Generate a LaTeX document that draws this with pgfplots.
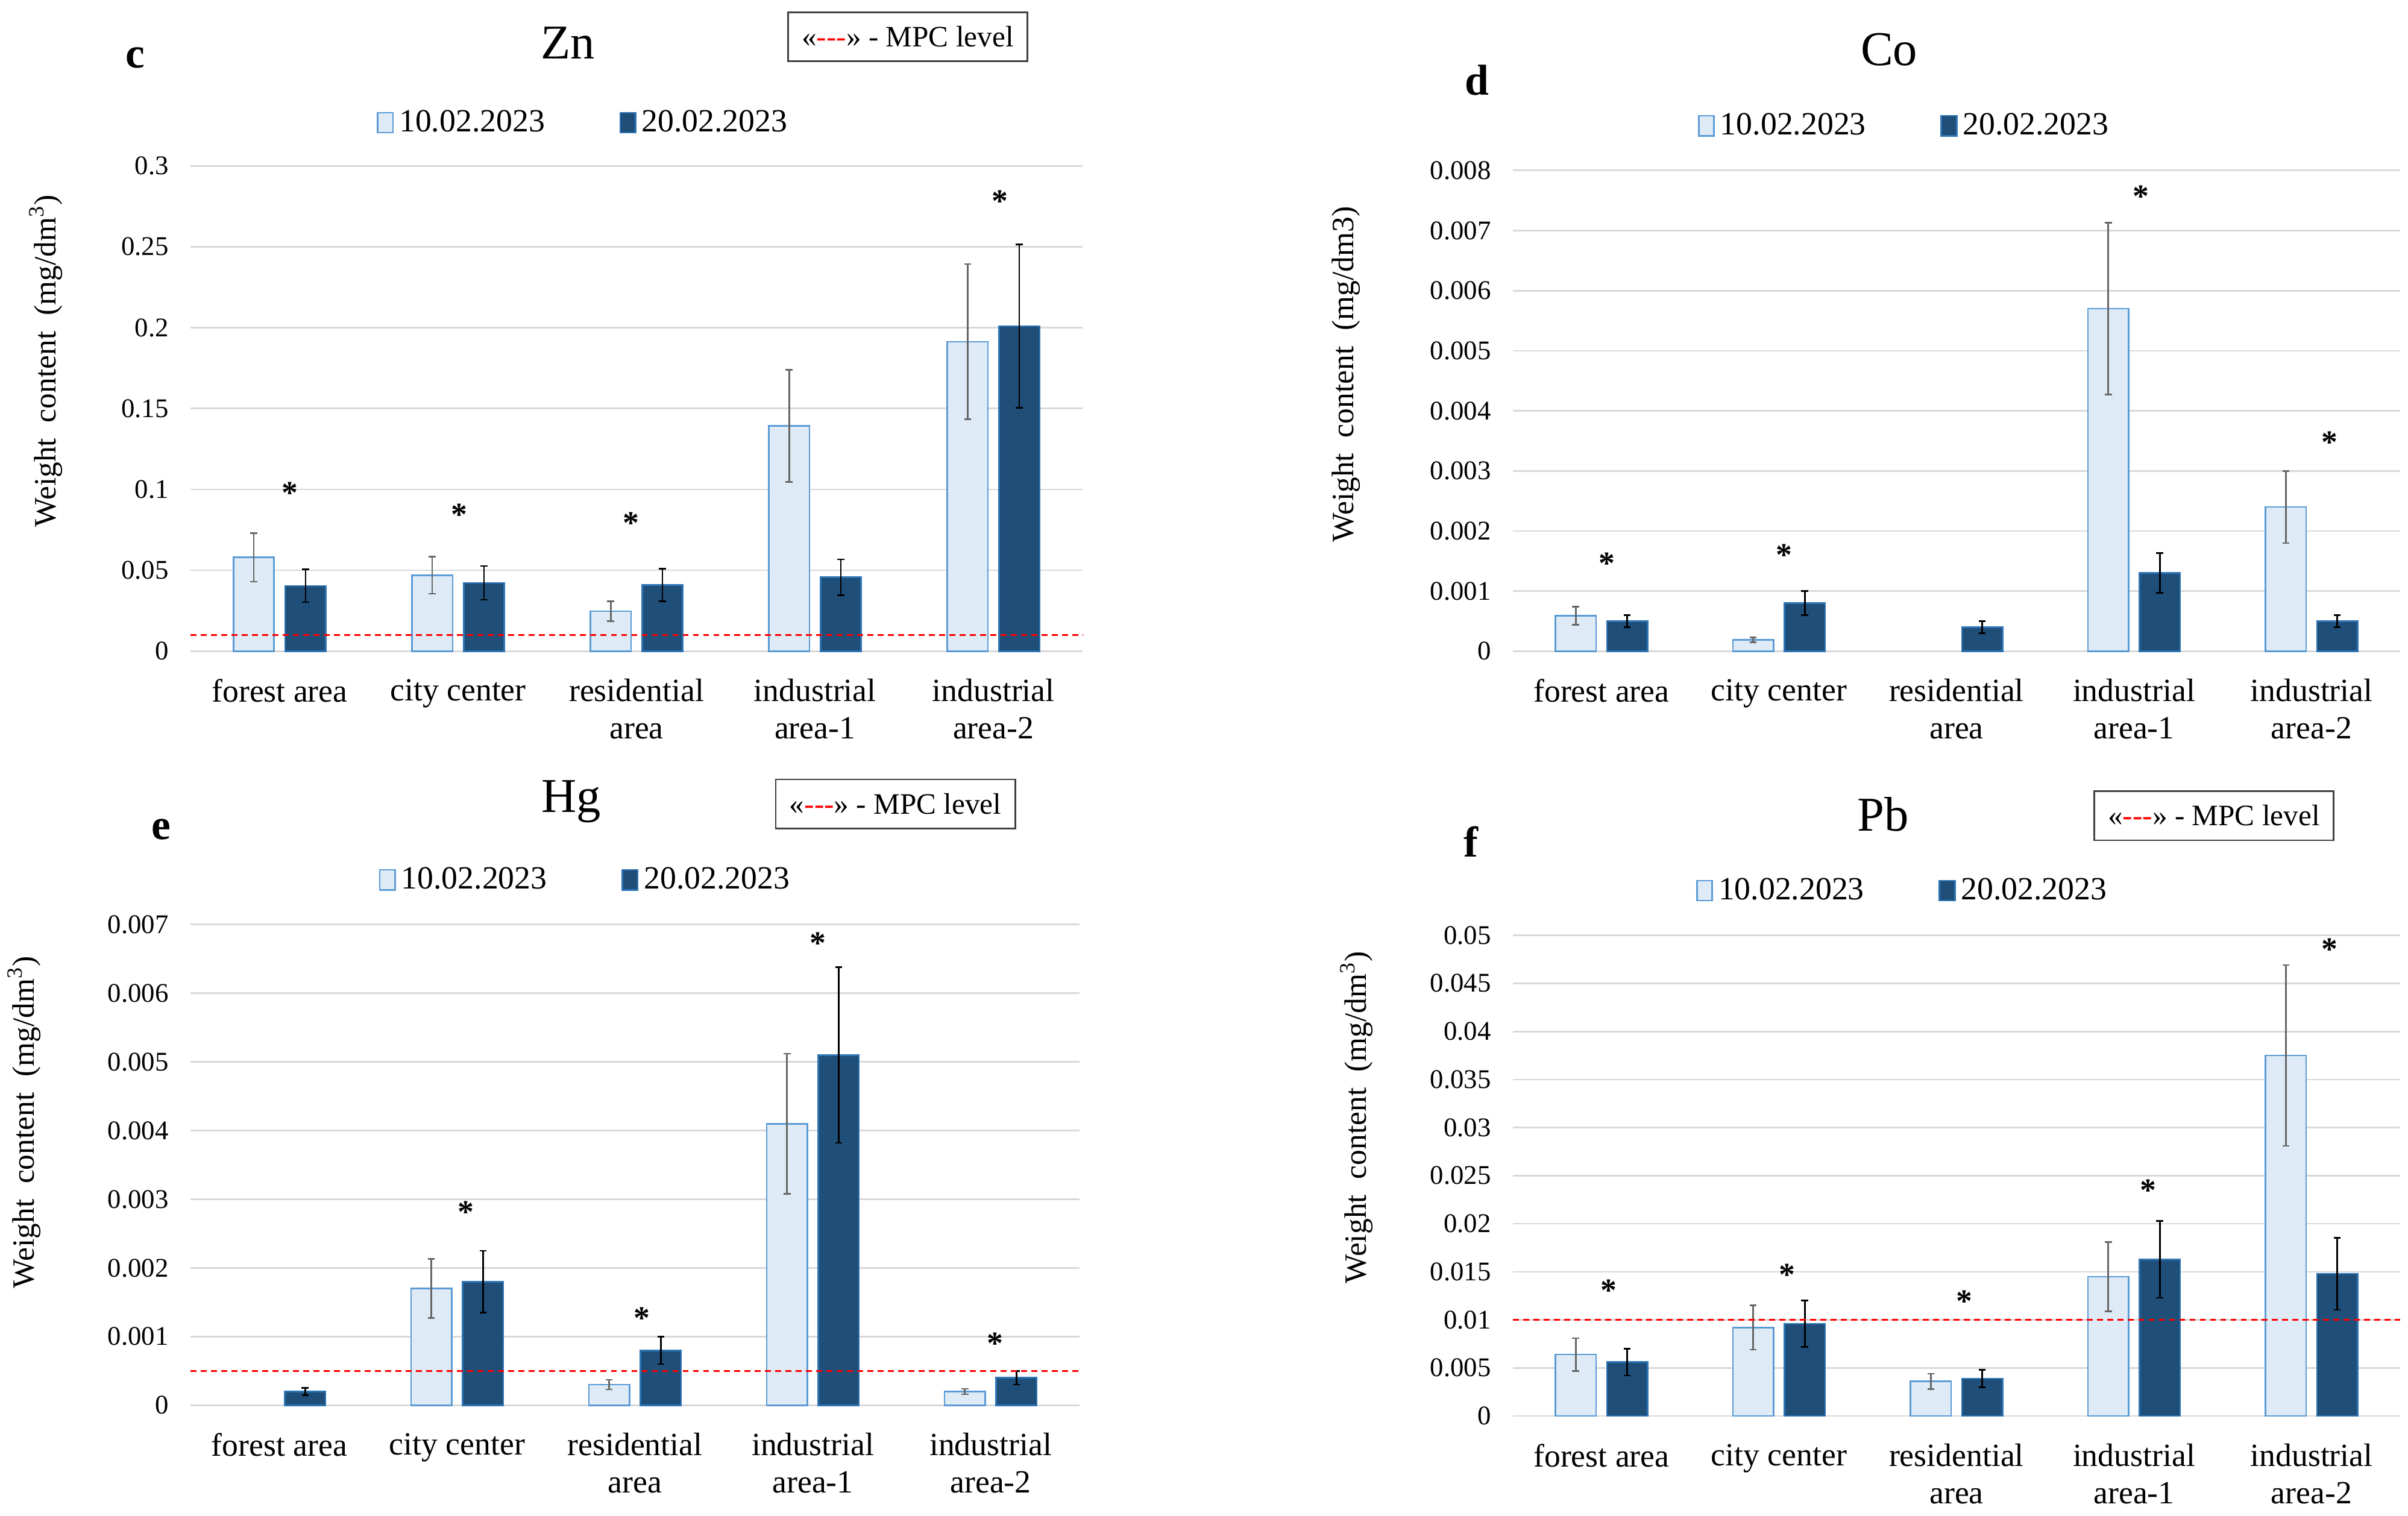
\documentclass[border=0pt]{standalone}
\usepackage{fontspec}
\setmainfont{Liberation Serif}
\usepackage{pgfplots}
\pgfplotsset{compat=1.18}

\definecolor{lightbar}{HTML}{DEEBF7}
\definecolor{lightedge}{HTML}{5B9BD5}
\definecolor{darkbar}{HTML}{1F4E79}
\definecolor{darkedge}{HTML}{2E75B6}
\definecolor{gridgray}{HTML}{D9D9D9}

% bars sit at category -0.145 (first date) and +0.145 (second date)
\pgfplotsset{
  panel/.style={
    scale only axis, anchor=north west, clip=false,
    xmin=-0.5, xmax=4.5, ymin=0,
    xtick={0,1,2,3,4},
    xticklabels={forest area, city center, {residential\\area}, {industrial\\area-1}, {industrial\\area-2}},
    xticklabel style={align=center, font=\fontsize{12}{13.7}\selectfont, yshift=-2.4mm},
    axis line style={draw=none}, major tick length=0pt,
    ymajorgrids, grid style={gridgray, line width=0.6pt},
    scaled y ticks=false,
    yticklabel style={/pgf/number format/fixed, /pgf/number format/precision=3,
      /pgf/number format/assume math mode=true,
      font=\fontsize{10}{12}\selectfont, xshift=-1.6mm},
    legend style={draw=none, fill=none, anchor=center, legend columns=2,
      font=\fontsize{12}{14}\selectfont,
      /tikz/every even column/.append style={column sep=9mm}},
  },
  light/.style={ybar, bar width=5.3mm, bar shift=0pt,
    fill=lightbar, draw=lightedge, line width=0.6pt,
    legend image code/.code={\draw[fill=lightbar, draw=lightedge, line width=0.6pt] (0mm,-1.3mm) rectangle (2mm,1.3mm);},
    error bars/.cd, y dir=both, y explicit,
    error bar style={black!60, line width=0.6pt},
    error mark options={rotate=90, black!60, mark size=0.45mm, line width=0.6pt}},
  dark/.style={ybar, bar width=5.3mm, bar shift=0pt,
    fill=darkbar, draw=darkedge, line width=0.6pt,
    legend image code/.code={\draw[fill=darkbar, draw=darkedge, line width=0.6pt] (0mm,-1.3mm) rectangle (2mm,1.3mm);},
    error bars/.cd, y dir=both, y explicit,
    error bar style={black, line width=0.6pt},
    error mark options={rotate=90, black, mark size=0.45mm, line width=0.6pt}},
  stars/.style={draw=none, mark=none, forget plot,
    nodes near coords={*},
    every node near coord/.append style={anchor=center, yshift=-0.8mm,
      font=\bfseries\fontsize{12}{12}\selectfont}},
  mpc/.style={red, line width=0.8pt, dash pattern=on 2.2pt off 1.6pt, forget plot},
}

\newcommand{\mpcbox}[2]{\node[draw=black!75, line width=0.6pt, minimum width=31.2mm, minimum height=6.4mm,
  font=\fontsize{11}{12}\selectfont] at (axis description cs:#1,#2) {«\textcolor{red}{-{}-{}-}» - MPC level};}
\newcommand{\ylab}{Weight\ \ content\ \ (mg/dm\textsuperscript{3})}

\begin{document}
\begin{tikzpicture}
\path[use as bounding box] (0,0) rectangle (313.6mm,-197.35mm);

% c: Zn
\begin{axis}[panel, at={(24.8mm,-21.6mm)}, width=116.2mm, height=63.2mm,
  ymax=0.3, ytick={0,0.05,...,0.3},
  legend style={at={(axis description cs:0.442,1.089)}},
  ylabel={\ylab}, ylabel style={at={(axis description cs:-0.162,0.598)}, anchor=center, font=\fontsize{11.5}{12}\selectfont}]
\addplot[light] coordinates {(-0.145,0.058) +- (0,0.015) (0.855,0.047) +- (0,0.0115) (1.855,0.0247) +- (0,0.0062) (2.855,0.1393) +- (0,0.0346) (3.855,0.1913) +- (0,0.048)};
\addlegendentry{10.02.2023}
\addplot[dark] coordinates {(0.145,0.0404) +- (0,0.0101) (1.145,0.0422) +- (0,0.0104) (2.145,0.041) +- (0,0.0101) (3.145,0.0457) +- (0,0.011) (4.145,0.201) +- (0,0.0505)};
\addlegendentry{20.02.2023}
\addplot[mpc] coordinates {(-0.5,0.01) (4.5,0.01)};
\addplot[stars] coordinates {(0.057,0.1016) (1.006,0.0882) (1.97,0.0829) (4.035,0.282)};
\node[font=\fontsize{18}{20}\selectfont] at (axis description cs:0.423,1.253) {Zn};
\node[font=\bfseries\fontsize{16}{18}\selectfont] at (axis description cs:-0.062,1.222) {c};
\mpcbox{0.804}{1.266}
\end{axis}

% d: Co
\begin{axis}[panel, at={(197.0mm,-22.2mm)}, width=115.6mm, height=62.6mm,
  ymax=0.008, ytick={0,0.001,...,0.008},
  legend style={at={(axis description cs:0.443,1.093)}},
  ylabel={Weight\ \ content\ \ (mg/dm3)}, ylabel style={at={(axis description cs:-0.188,0.576)}, anchor=center, font=\fontsize{11.5}{12}\selectfont}]
\addplot[light] coordinates {(-0.145,0.00059) +- (0,0.00015) (0.855,0.00019) +- (0,0.00004) (2.855,0.0057) +- (0,0.00143) (3.855,0.0024) +- (0,0.0006)};
\addlegendentry{10.02.2023}
\addplot[dark] coordinates {(0.145,0.0005) +- (0,0.0001) (1.145,0.0008) +- (0,0.0002) (2.145,0.0004) +- (0,0.0001) (3.145,0.0013) +- (0,0.00033) (4.145,0.0005) +- (0,0.0001)};
\addlegendentry{20.02.2023}
\addplot[stars] coordinates {(0.03,0.00156) (1.03,0.0017) (3.04,0.00767) (4.1,0.00358)};
\node[font=\fontsize{18}{20}\selectfont] at (axis description cs:0.424,1.252) {Co};
\node[font=\bfseries\fontsize{16}{18}\selectfont] at (axis description cs:-0.04,1.188) {d};
\end{axis}

% e: Hg
\begin{axis}[panel, at={(24.8mm,-120.4mm)}, width=115.8mm, height=62.6mm,
  ymax=0.007, ytick={0,0.001,...,0.007},
  legend style={at={(axis description cs:0.446,1.093)}},
  ylabel={\ylab}, ylabel style={at={(axis description cs:-0.187,0.589)}, anchor=center, font=\fontsize{11.5}{12}\selectfont}]
\addplot[light] coordinates {(0.855,0.0017) +- (0,0.00043) (1.855,0.0003) +- (0,0.00007) (2.855,0.0041) +- (0,0.00102) (3.855,0.0002) +- (0,0.00004)};
\addlegendentry{10.02.2023}
\addplot[dark] coordinates {(0.145,0.0002) +- (0,0.00005) (1.145,0.0018) +- (0,0.00045) (2.145,0.0008) +- (0,0.0002) (3.145,0.0051) +- (0,0.00128) (4.145,0.0004) +- (0,0.0001)};
\addlegendentry{20.02.2023}
\addplot[mpc] coordinates {(-0.5,0.0005) (4.5,0.0005)};
\addplot[stars] coordinates {(1.05,0.0029) (2.04,0.00136) (3.03,0.00682) (4.025,0.00099)};
\node[font=\fontsize{18}{20}\selectfont] at (axis description cs:0.428,1.256) {Hg};
\node[font=\bfseries\fontsize{16}{18}\selectfont] at (axis description cs:-0.033,1.198) {e};
\mpcbox{0.793}{1.251}
\end{axis}

% f: Pb
\begin{axis}[panel, at={(197.0mm,-121.8mm)}, width=115.6mm, height=62.6mm,
  ymax=0.05, ytick={0,0.005,...,0.05},
  legend style={at={(axis description cs:0.441,1.093)}},
  ylabel={\ylab}, ylabel style={at={(axis description cs:-0.176,0.621)}, anchor=center, font=\fontsize{11.5}{12}\selectfont}]
\addplot[light] coordinates {(-0.145,0.0064) +- (0,0.0017) (0.855,0.0092) +- (0,0.0023) (1.855,0.0036) +- (0,0.0008) (2.855,0.0145) +- (0,0.0036) (3.855,0.0375) +- (0,0.0094)};
\addlegendentry{10.02.2023}
\addplot[dark] coordinates {(0.145,0.0056) +- (0,0.0014) (1.145,0.0096) +- (0,0.0024) (2.145,0.0039) +- (0,0.0009) (3.145,0.0163) +- (0,0.004) (4.145,0.0148) +- (0,0.00375)};
\addlegendentry{20.02.2023}
\addplot[mpc] coordinates {(-0.5,0.01) (4.5,0.01)};
\addplot[stars] coordinates {(0.04,0.0137) (1.045,0.01535) (2.045,0.0126) (3.08,0.0241) (4.1,0.0492)};
\node[font=\fontsize{18}{20}\selectfont] at (axis description cs:0.417,1.252) {Pb};
\node[font=\bfseries\fontsize{16}{18}\selectfont] at (axis description cs:-0.047,1.195) {f};
\mpcbox{0.79}{1.249}
\end{axis}
\end{tikzpicture}
\end{document}
